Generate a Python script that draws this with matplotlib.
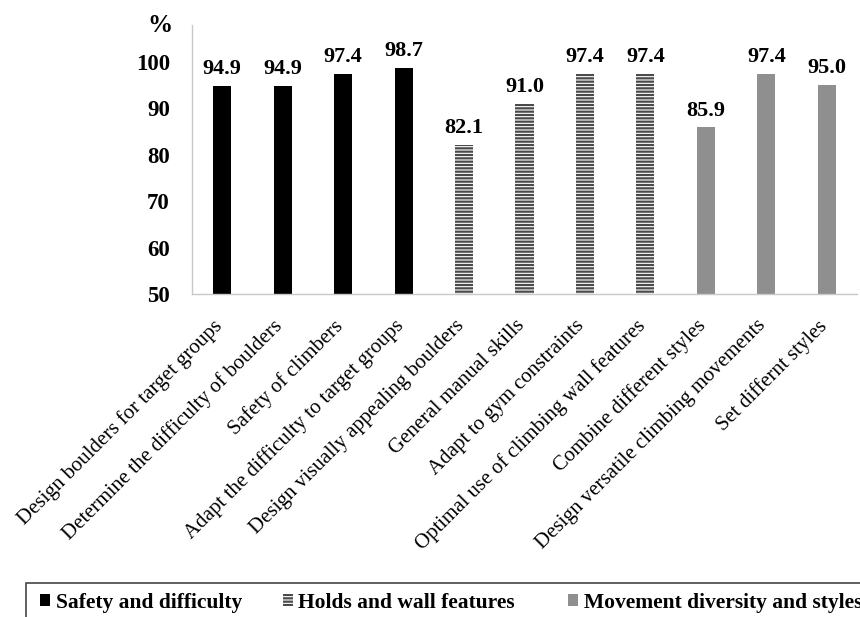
import matplotlib
matplotlib.use("Agg")
import matplotlib.pyplot as plt
from matplotlib.patches import Patch, Rectangle
from matplotlib.transforms import ScaledTranslation

categories = [
    "Design boulders for target groups",
    "Determine the difficulty of boulders",
    "Safety of climbers",
    "Adapt the difficulty to target groups",
    "Design visually appealing boulders",
    "General manual skills",
    "Adapt to gym constraints",
    "Optimal use of climbing wall features",
    "Combine different styles",
    "Design versatile climbing movements",
    "Set differnt styles",
]
values = [94.9, 94.9, 97.4, 98.7, 82.1, 91.0, 97.4, 97.4, 85.9, 97.4, 95.0]
groups = [0, 0, 0, 0, 1, 1, 1, 1, 2, 2, 2]
group_names = ["Safety and difficulty", "Holds and wall features",
               "Movement diversity and styles"]

plt.rcParams['font.family'] = ['Liberation Serif', 'DejaVu Serif']
plt.rcParams['hatch.linewidth'] = 1.6

W, H = 860, 617
fig = plt.figure(figsize=(8.6, 6.17), dpi=100)
ax = fig.add_axes([192/W, 1-294/H, (857-192)/W, (294-25)/H])

styles = [
    dict(color='black', linewidth=0),
    dict(facecolor='white', edgecolor='#4a4a4a', hatch='-----', linewidth=0),
    dict(color='#8f8f8f', linewidth=0),
]
x = list(range(len(categories)))
for g in range(3):
    xs = [i for i in x if groups[i] == g]
    vs = [values[i] for i in xs]
    bars = ax.bar(xs, [v - 50 for v in vs], bottom=50, width=0.3, **styles[g])
    ax.bar_label(bars, labels=[f"{v:.1f}" for v in vs], padding=5,
                 fontsize=16, fontweight='bold')

ax.set_xlim(-0.5, 10.5)
ax.set_ylim(50, 108)
ax.set_yticks([50, 60, 70, 80, 90, 100])
ax.tick_params(axis='y', length=0, pad=16, labelsize=16.5)
for lbl in ax.get_yticklabels():
    lbl.set_fontweight('bold')
ax.set_xticks(x)
ax.set_xticklabels(categories, rotation=45, ha='right', rotation_mode='anchor',
                   fontsize=15)
ax.tick_params(axis='x', length=0, pad=16)
shift = ScaledTranslation(-7/72, 0, fig.dpi_scale_trans)
for lbl in ax.get_xticklabels():
    lbl.set_transform(lbl.get_transform() + shift)
for s in ['top', 'right']:
    ax.spines[s].set_visible(False)
for s in ['left', 'bottom']:
    ax.spines[s].set_color('#c8c8c8')
    ax.spines[s].set_linewidth(1)

fig.text(160/W, 1-25/H, "%", fontsize=18, fontweight='bold',
         ha='center', va='center')

# legend frame (extends past the right and bottom edges, as in the original)
fig.add_artist(Rectangle((26/W, -0.05), 1.0, (1-583/H) + 0.05,
                         transform=fig.transFigure, facecolor='none',
                         edgecolor='#444444', linewidth=1.2))

handle_x = [40, 283, 568]
for g in range(3):
    leg = fig.legend([Patch(**styles[g])], [group_names[g]], loc='center left',
                     bbox_to_anchor=(handle_x[g]/W, 1-603/H),
                     frameon=False, prop={'weight': 'bold', 'size': 15.5},
                     handlelength=0.47, handleheight=0.47, handletextpad=0.25,
                     borderpad=0, borderaxespad=0)

fig.savefig("out.png", dpi=100)
